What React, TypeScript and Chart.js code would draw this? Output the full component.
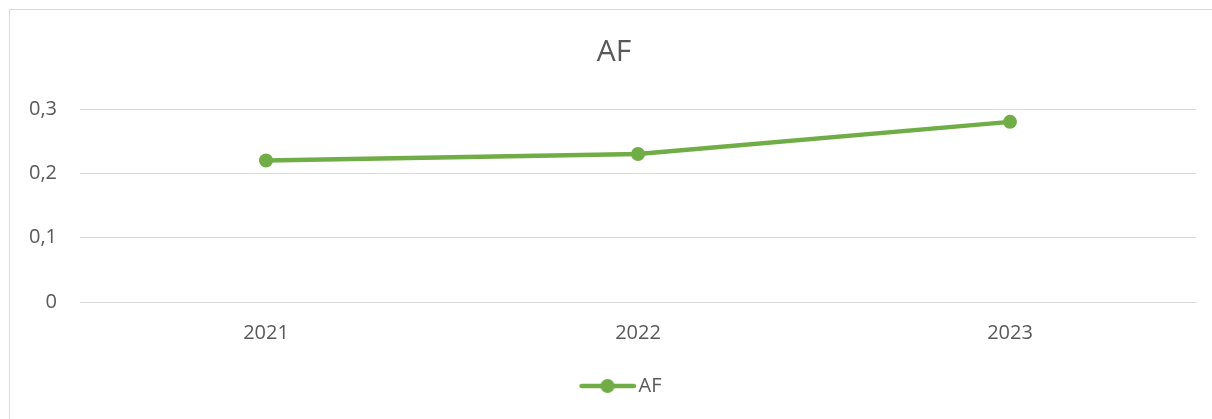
import React, { useEffect, useRef } from "react";
import { Chart, registerables } from "chart.js";

Chart.register(...registerables);

const categories = ["2021", "2022", "2023"];
const afValues = [0.22, 0.23, 0.28];
const yTickLabels = ["0", "0,1", "0,2", "0,3"];
const seriesName = "AF";
const chartTitle = "AF";

const GREEN = "#70AD47";
const TEXT = "#595959";
const GRID = "#d9d9d9";
const FONT = "'Open Sans', sans-serif";

function makeLegendMarker(): HTMLCanvasElement {
  const c = document.createElement("canvas");
  c.width = 81;
  c.height = 18;
  const ctx = c.getContext("2d")!;
  ctx.strokeStyle = GREEN;
  ctx.lineWidth = 4.5;
  ctx.lineCap = "round";
  ctx.beginPath();
  ctx.moveTo(27, 9);
  ctx.lineTo(79, 9);
  ctx.stroke();
  ctx.fillStyle = GREEN;
  ctx.beginPath();
  ctx.arc(53, 9, 7, 0, Math.PI * 2);
  ctx.fill();
  return c;
}

export default function App() {
  const ref = useRef<HTMLCanvasElement | null>(null);

  useEffect(() => {
    if (!ref.current) return;
    const marker = makeLegendMarker();
    const chart = new Chart(ref.current, {
      type: "line",
      data: {
        labels: categories,
        datasets: [
          {
            label: seriesName,
            data: afValues,
            borderColor: GREEN,
            backgroundColor: GREEN,
            borderWidth: 4.5,
            pointRadius: 7,
            pointHoverRadius: 7,
            pointBackgroundColor: GREEN,
            pointBorderColor: GREEN,
            pointBorderWidth: 0,
            tension: 0,
            fill: false,
          },
        ],
      },
      options: {
        responsive: false,
        animation: false,
        layout: { padding: { left: 27, right: 16, top: 0, bottom: 13 } },
        plugins: {
          title: {
            display: true,
            text: "\u2009" + chartTitle,
            color: TEXT,
            font: { family: FONT, size: 30, weight: "normal" },
            padding: { top: 34, bottom: 39 },
          },
          legend: {
            display: true,
            position: "bottom",
            labels: {
              usePointStyle: true,
              pointStyle: marker as any,
              pointStyleWidth: 67,
              padding: 10,
              color: TEXT,
              font: { family: FONT, size: 20 },
            },
          },
          tooltip: { enabled: false },
        },
        scales: {
          x: {
            offset: true,
            grid: { display: false, drawTicks: false },
            border: { display: false },
            ticks: {
              color: TEXT,
              font: { family: FONT, size: 20 },
              padding: 19,
              maxRotation: 0,
            },
            afterFit: (s: any) => {
              s.height = 64;
            },
          },
          y: {
            min: 0,
            max: 0.3,
            grid: { color: GRID, lineWidth: 1, drawTicks: false },
            border: { display: false },
            ticks: {
              stepSize: 0.1,
              color: TEXT,
              font: { family: FONT, size: 20 },
              padding: 23,
              callback: (_v: any, i: number) => yTickLabels[i],
            },
            afterFit: (s: any) => {
              s.width = 53;
            },
          },
        },
      },
    });
    return () => chart.destroy();
  }, []);

  return (
    <div
      style={{
        position: "fixed",
        left: 0,
        top: 0,
        width: 1212,
        height: 419,
        overflow: "hidden",
        background: "#fff",
      }}
    >
      <div
        style={{
          position: "absolute",
          left: 9,
          top: 9,
          width: 1300,
          height: 500,
          border: "1px solid #d9d9d9",
          boxSizing: "border-box",
        }}
      />
      <canvas
        ref={ref}
        width={1212}
        height={419}
        style={{ position: "absolute", left: 0, top: 0, width: 1212, height: 419 }}
      />
    </div>
  );
}
